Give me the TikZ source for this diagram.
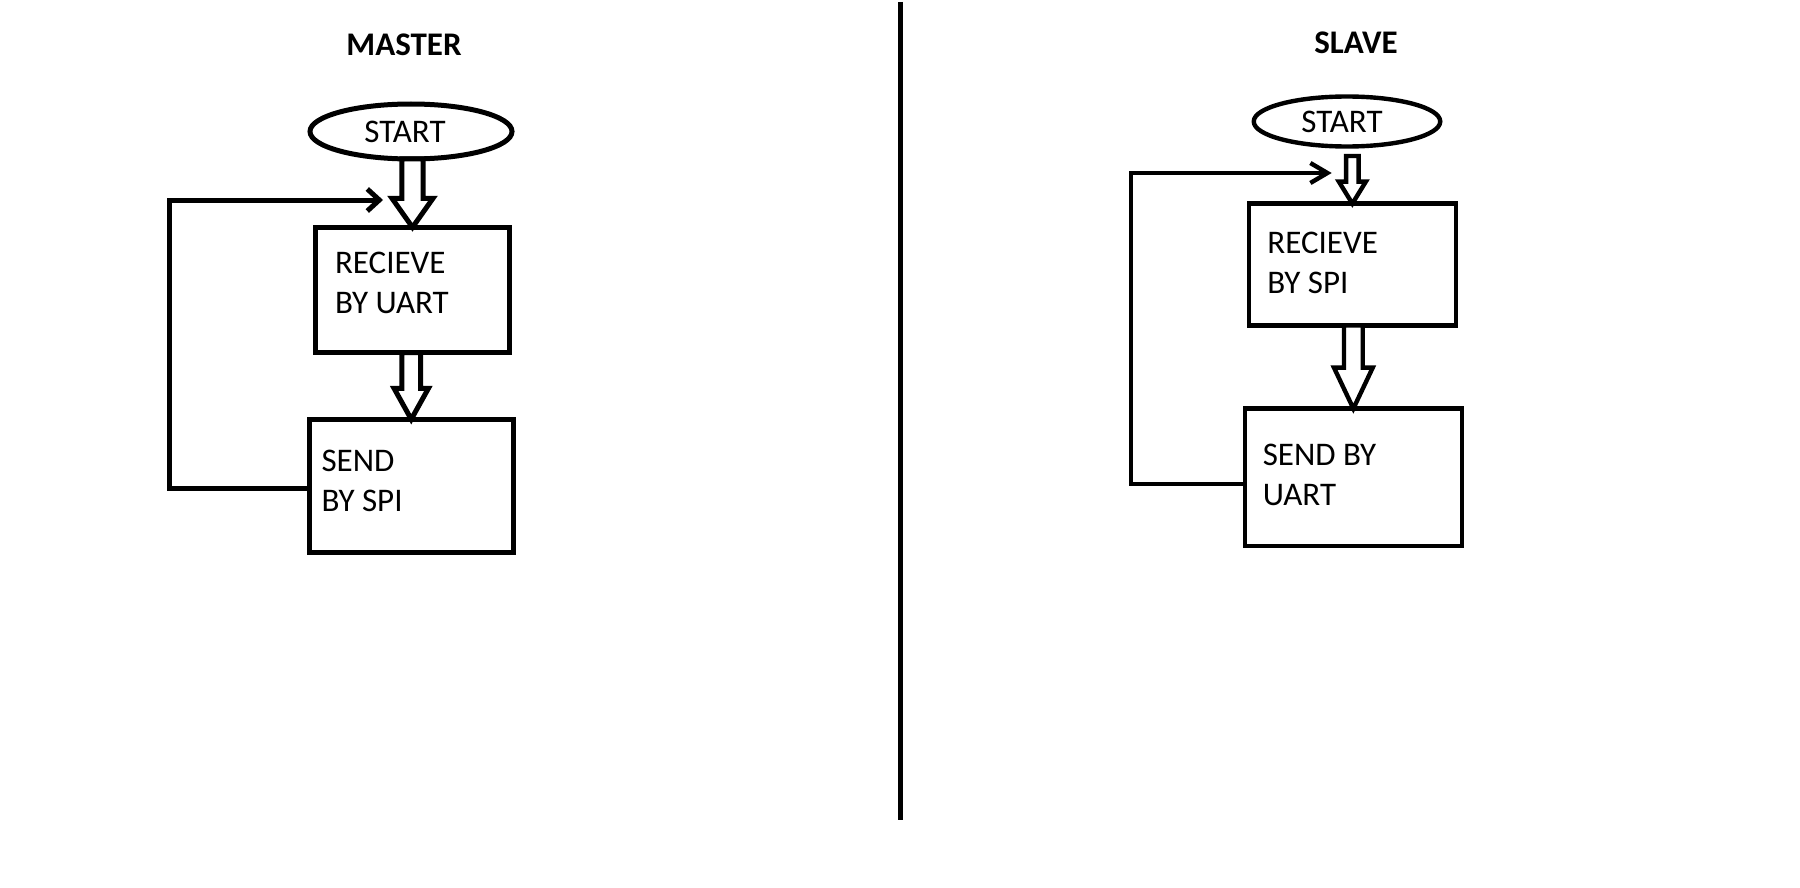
\documentclass[tikz,border=0pt]{standalone}
\usepackage{fontspec}
\setmainfont{Carlito}
\usetikzlibrary{calc,arrows.meta,shapes.geometric}
\tikzset{
  mline/.style={line width=2.5pt},
  sline/.style={line width=2.2pt},
  box/.style={draw, rectangle, inner sep=0pt, outer sep=0pt},
  oval/.style={draw, ellipse, inner sep=0pt, outer sep=0pt, font=\fontsize{16.5}{20}\selectfont},
  lbl/.style={anchor=north west, inner sep=0pt, outer sep=0pt, align=left, font=\fontsize{16.5}{20}\selectfont},
  ttl/.style={anchor=base, inner sep=0pt, font=\fontsize{16.5}{20}\selectfont\bfseries},
  blockarrow/.style n args={3}{draw, fill=white, to path={let \p1=(\tikztostart), \p2=(\tikztotarget) in
     (\x2-#1,\y1) -- (\x2-#1,\y2+#3) -- (\x2-#2,\y2+#3) -- (\x2,\y2) -- (\x2+#2,\y2+#3) -- (\x2+#1,\y2+#3) -- (\x2+#1,\y1) -- cycle}},
}
\begin{document}
\begin{tikzpicture}[x=0.5pt,y=-0.5pt]
\useasboundingbox (0,0) rectangle (1800,888);
\fill[white] (0,0) rectangle (1800,888);

% divider
\coordinate (divtop) at (900,2);
\coordinate (divbot) at (900,820);
\draw[line width=2.5pt] (divtop) -- (divbot);

% ---------- MASTER ----------
\node[ttl] (mtitle) at (404,55.5) {MASTER};
\node[oval, mline, minimum width=101pt, minimum height=27.5pt] (mstart) at (411,131.5) {\kern-6pt START};
\node[box, mline, minimum width=96.9pt, minimum height=62.7pt] (mb1) at (412.5,290) {};
\node[lbl] (mb1t) at (335,251.7) {RECIEVE\\BY UART};
\node[box, mline, minimum width=101.95pt, minimum height=66.7pt] (mb2) at (411.25,486) {};
\node[lbl] (mb2t) at (321.5,450) {SEND\\BY SPI};

\draw[mline, blockarrow={5.35pt}{10.25pt}{14.5pt}] (mstart.south) to (mb1.north);
\draw[mline, blockarrow={4.7pt}{8.6pt}{15.5pt}] (mb1.south) to (mb2.north);

\coordinate (mend) at (383,200);
\draw[mline, -{Straight Barb[length=6pt,width=11pt]}] ([yshift=-1pt]mb2.west) -- ++(-140,0) |- (mend);

% ---------- SLAVE ----------
\node[ttl] (stitle) at (1356,54) {SLAVE};
\node[oval, sline, minimum width=93.25pt, minimum height=25pt] (sstart) at (1347,121.5) {\kern-5pt START};
\node[box, sline, minimum width=103.65pt, minimum height=60.85pt] (sb1) at (1352.35,264.45) {};
\node[lbl] (sb1t) at (1267.4,232) {RECIEVE\\BY SPI};
\node[box, sline, minimum width=108.35pt, minimum height=68.7pt] (sb2) at (1353.35,477.3) {};
\node[lbl] (sb2t) at (1262.8,444.5) {SEND BY\\UART};

\draw[sline, blockarrow={3.15pt}{6.75pt}{11pt}] ([yshift=-4.75pt]sstart.south) to (sb1.north);
\draw[sline, blockarrow={4.7pt}{9.7pt}{20.5pt}] (sb1.south) to (sb2.north);

\coordinate (send) at (1331.7,173);
\draw[sline, -{Straight Barb[length=8.5pt,width=10pt]}] ([yshift=-3.35pt]sb2.west) -- ++(-114,0) |- (send);
\end{tikzpicture}
\end{document}
